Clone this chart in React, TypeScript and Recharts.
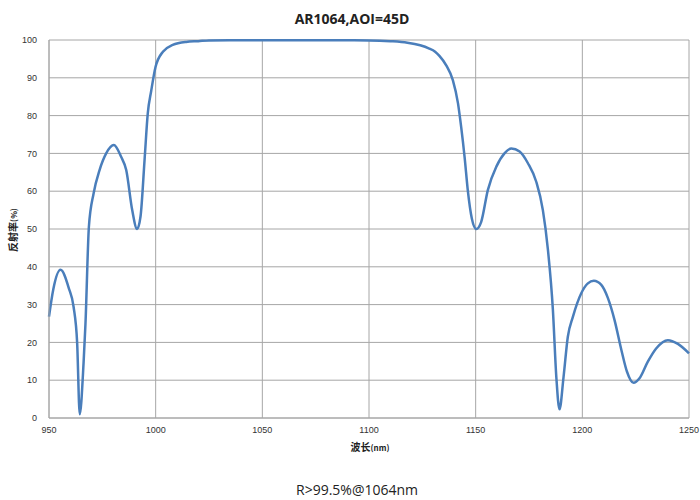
import { LineChart, Line, XAxis, YAxis, CartesianGrid, Label } from 'recharts';

const wavelength = [
  950, 952, 955.4, 959.3, 961.5, 963.2, 964.4, 966.2, 967.1, 968.7, 970.9, 973.7,
  976.8, 980.4, 983.8, 986.2, 989, 991.3, 992.9, 994.8, 996.3, 997.9, 999.9, 1003.4,
  1008, 1014.3, 1020, 1025, 1040, 1060, 1080, 1100, 1110, 1118, 1124, 1128, 1131, 1133,
  1136.2, 1139.3, 1141.7, 1143.2, 1144.8, 1146.3, 1148.2, 1150.3, 1152.6, 1155.7,
  1159.7, 1163.5, 1166.7, 1170.6, 1174.5, 1178.4, 1181.5, 1183.8, 1186.2, 1187.8,
  1189.3, 1191.2, 1193.2, 1195.6, 1199.5, 1202.6, 1205.4, 1208.9, 1212, 1215.1,
  1218.3, 1220.9, 1224, 1226.8, 1230.7, 1234.6, 1240.1, 1244.8, 1250,
];

const reflectance = [
  26.8, 34, 39.2, 34.3, 29.5, 19.8, 1.0, 14.5, 25, 50.6, 59.4, 65.6,
  70, 72.2, 69.1, 65.6, 55, 50, 53.3, 68.3, 80.6, 86.5, 92.8, 96.9,
  98.7, 99.5, 99.7, 99.9, 99.95, 99.95, 99.95, 99.9, 99.7, 99.3, 98.6, 97.8, 96.9, 95.8,
  93.3, 89.4, 83.3, 77, 69.1, 60.3, 52.8, 50, 51.9, 60.3,
  66.5, 70, 71.3, 70.5, 67.4, 62.5, 55, 44.9, 28.6, 10.9,
  2.3, 10.9, 21.5, 26.8, 33, 35.6, 36.3, 35.2, 31.7, 25.9,
  18, 12.3, 9.3, 10.5, 14.9, 18.4, 20.6, 19.6, 17.1,
];

const xTicks = [950, 1000, 1050, 1100, 1150, 1200, 1250];
const yTicks = [0, 10, 20, 30, 40, 50, 60, 70, 80, 90, 100];

const data = wavelength.map((w, i) => ({ w, r: reflectance[i] }));

const tickStyle = { fontSize: 9, fill: '#333', fontFamily: 'Liberation Sans, Arial, sans-serif' };

export default function App() {
  return (
    <div style={{ position: 'absolute', left: 0, top: 0, width: 700, height: 500, background: '#fff' }}>
      <div
        style={{
          position: 'absolute',
          top: 9,
          left: 0,
          width: 704,
          textAlign: 'center',
          fontFamily: 'Open Sans, Liberation Sans, sans-serif',
          fontWeight: 'bold',
          fontSize: 14,
          color: '#222',
        }}
      >
        AR1064,AOI=45D
      </div>
      <LineChart width={700} height={500} data={data} margin={{ top: 40, right: 11, bottom: 52, left: 0 }}>
        <CartesianGrid stroke="#a6a6a6" strokeWidth={1} />
        <XAxis
          dataKey="w"
          type="number"
          domain={[950, 1250]}
          ticks={xTicks}
          tick={tickStyle}
          tickLine={false}
          axisLine={{ stroke: '#a6a6a6' }}
          height={30}
          tickMargin={3}
        >
          <Label
            content={() => (
              <text x={370} y={451} textAnchor="middle" fontFamily="Noto Sans CJK SC, sans-serif" fontWeight="bold" fill="#222">
                <tspan fontSize={10}>波长</tspan>
                <tspan fontSize={8}>(nm)</tspan>
              </text>
            )}
          />
        </XAxis>
        <YAxis
          type="number"
          domain={[0, 100]}
          ticks={yTicks}
          tick={tickStyle}
          tickLine={false}
          axisLine={{ stroke: '#a6a6a6' }}
          width={49}
          tickMargin={6}
        >
          <Label
            content={() => (
              <text
                x={17}
                y={230}
                textAnchor="middle"
                transform="rotate(-90 17 230)"
                fontFamily="Noto Sans CJK SC, sans-serif"
                fontWeight="bold"
                fill="#222"
              >
                <tspan fontSize={10}>反射率</tspan>
                <tspan fontSize={8}>(%)</tspan>
              </text>
            )}
          />
        </YAxis>
        <Line
          type="monotone"
          dataKey="r"
          stroke="#4a7ebb"
          strokeWidth={2.5}
          dot={false}
          isAnimationActive={false}
        />
      </LineChart>
      <div
        style={{
          position: 'absolute',
          top: 480,
          left: 0,
          width: 714,
          textAlign: 'center',
          fontFamily: 'Open Sans, Liberation Sans, sans-serif',
          fontSize: 14,
          color: '#222',
        }}
      >
        R&gt;99.5%@1064nm
      </div>
    </div>
  );
}
